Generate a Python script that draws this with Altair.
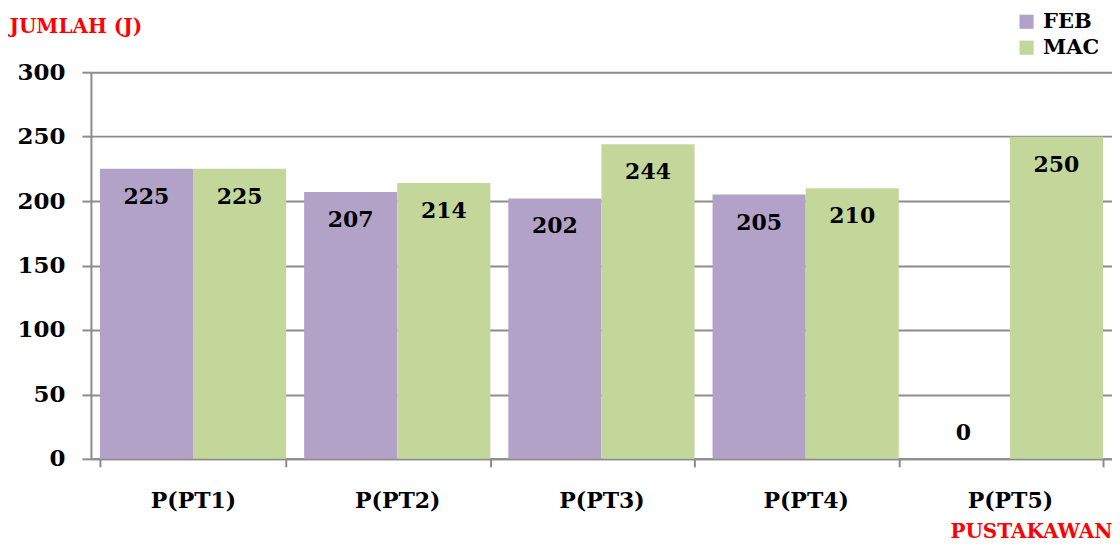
import altair as alt
import pandas as pd

categories = ["P(PT1)", "P(PT2)", "P(PT3)", "P(PT4)", "P(PT5)"]
feb = [225, 207, 202, 205, 0]
mac = [225, 214, 244, 210, 250]
series = ["FEB", "MAC"]
colors = ["#B3A2C7", "#C4D79B"]

rows = []
for i, c in enumerate(categories):
    rows.append({"cat": c, "bulan": "FEB", "val": feb[i]})
    rows.append({"cat": c, "bulan": "MAC", "val": mac[i]})
df = pd.DataFrame(rows)

FONT = "DejaVu Serif"

x = alt.X("cat:N", sort=categories,
          scale=alt.Scale(paddingInner=0.088, paddingOuter=0.044),
          axis=alt.Axis(title="PUSTAKAWAN", tickBand="extent", labelAngle=0,
                        labelFont=FONT, labelFontWeight="bold", labelFontSize=22,
                        labelColor="black", labelPadding=24,
                        domainColor="#8C8C8C", domainWidth=2,
                        tickColor="#8C8C8C", tickWidth=2, tickSize=8,
                        titleFont=FONT, titleFontWeight="bold", titleFontSize=20,
                        titleColor="#FF0000", titleAnchor="end", titleAlign="right",
                        titleX=1022, titleY=79, titleBaseline="alphabetic"))
y = alt.Y("val:Q", scale=alt.Scale(domain=[0, 300]),
          axis=alt.Axis(values=[0, 50, 100, 150, 200, 250, 300], title="JUMLAH (J)",
                        labelFont=FONT, labelFontWeight="bold", labelFontSize=23,
                        labelColor="black", labelPadding=17,
                        domainColor="#8C8C8C", domainWidth=2,
                        tickColor="#8C8C8C", tickWidth=2, tickSize=9,
                        gridColor="#8C8C8C", gridWidth=2,
                        titleFont=FONT, titleFontWeight="bold", titleFontSize=20,
                        titleColor="#FF0000", titleAngle=0, titleAlign="left",
                        titleBaseline="middle", titleX=-82, titleY=-46))
xo = alt.XOffset("bulan:N", sort=series)

bars = alt.Chart(df).mark_bar().encode(
    x=x, y=y, xOffset=xo,
    color=alt.Color("bulan:N", sort=series,
                    scale=alt.Scale(domain=series, range=colors),
                    legend=alt.Legend(title=None, orient="none", legendX=926, legendY=-61,
                                      symbolType="square", symbolSize=200, symbolStrokeWidth=0,
                                      labelFont=FONT, labelFontWeight="bold", labelFontSize=21,
                                      labelColor="black", rowPadding=4, labelOffset=6)),
)

lab_in = alt.Chart(df).transform_filter("datum.val > 0").mark_text(
    font=FONT, fontWeight="bold", fontSize=22, color="black", dy=28
).encode(x=alt.X("cat:N", sort=categories), y="val:Q", xOffset=xo, text="val:Q")

lab_zero = alt.Chart(df).transform_filter("datum.val == 0").mark_text(
    font=FONT, fontWeight="bold", fontSize=22, color="black", dy=-26
).encode(x=alt.X("cat:N", sort=categories), y="val:Q", xOffset=xo, text="val:Q")

chart = alt.layer(bars, lab_in, lab_zero).properties(
    width=1022, height=387,
    autosize=alt.AutoSizeParams(type="none"),
    padding={"left": 83, "top": 64, "right": 0, "bottom": 83},
).configure_view(stroke=None).configure_axisY(grid=True).configure_axisX(grid=False)

chart.save("out.html", embed_options={"renderer": "svg", "actions": False})
